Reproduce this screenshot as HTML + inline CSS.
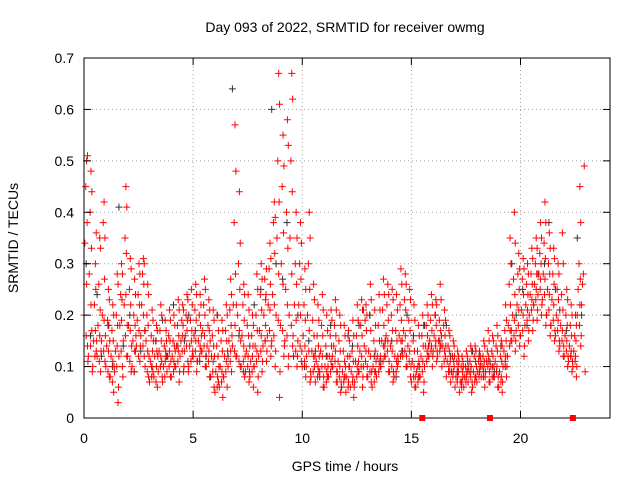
<!DOCTYPE html>
<html><head><meta charset="utf-8"><style>
body{margin:0;background:#fff}
svg text{font-family:"Liberation Sans",sans-serif;font-size:14px;fill:#000}
</style></head><body>
<svg width="640" height="480" id="c">
<text x="345" y="32" text-anchor="middle">Day 093 of 2022, SRMTID for receiver owmg</text>
<text x="345" y="471" text-anchor="middle">GPS time / hours</text>
<text transform="translate(18,238) rotate(-90)" text-anchor="middle">SRMTID / TECUs</text>
<g id="grid"></g>
<g id="marks"></g>
<rect x="84" y="58" width="526" height="360" fill="none" stroke="#000"/>
<g id="axes"></g>
</svg>
<script>
const xTicks=[0,5,10,15,20];
const yTicks=[0,0.1,0.2,0.3,0.4,0.5,0.6,0.7];
const yTickLabels=["0","0.1","0.2","0.3","0.4","0.5","0.6","0.7"];
const redStartHour=0, redStep=0.2;
const redBands=[
[.20,.34,.45,.50,.14],[.12,.28,.40,.48,.17],[.10,.15,.22,.30,.13],[.12,.18,.26,.35,.09],[.15,.20,.38,.42,.11],
[.10,.14,.19,.25,.08],[.08,.12,.17,.22,.05],[.09,.13,.20,.28,.03],[.12,.18,.24,.30,.10],[.15,.22,.35,.45,.12],
[.12,.18,.25,.31,.09],[.10,.15,.20,.27,.13],[.14,.19,.24,.30,.11],[.16,.22,.28,.31,.12],[.10,.15,.20,.26,.08],
[.07,.11,.16,.21,.09],[.08,.12,.15,.18,.06],[.09,.13,.17,.22,.11],[.07,.10,.14,.19,.12],[.09,.12,.16,.21,.08],
[.08,.12,.15,.20,.10],[.10,.14,.18,.23,.07],[.12,.15,.19,.22,.09],[.13,.16,.20,.24,.11],[.10,.14,.19,.25,.12],
[.12,.16,.21,.26,.09],[.11,.15,.20,.24,.13],[.13,.17,.22,.27,.10],[.10,.14,.18,.23,.08],[.08,.12,.16,.21,.06],
[.05,.09,.14,.20,.07],[.06,.10,.15,.19,.04],[.08,.12,.17,.22,.06],[.10,.15,.21,.27,.09],[.14,.22,.38,.57,.12],
[.12,.20,.30,.44,.10],[.10,.16,.22,.26,.08],[.09,.13,.18,.24,.07],[.08,.11,.16,.20,.06],[.10,.14,.20,.28,.05],
[.12,.17,.24,.30,.09],[.14,.20,.27,.23,.11],[.16,.22,.29,.34,.12],[.15,.24,.38,.42,.10],[.20,.35,.50,.67,.04],
[.18,.30,.45,.55,.12],[.15,.25,.40,.58,.10],[.20,.35,.50,.67,.14],[.12,.22,.30,.40,.10],[.15,.22,.30,.38,.11],
[.10,.16,.22,.29,.08],[.12,.20,.30,.40,.07],[.08,.13,.19,.26,.10],[.07,.11,.16,.22,.09],[.09,.13,.18,.24,.06],
[.06,.10,.14,.20,.08],[.08,.12,.16,.21,.10],[.10,.14,.18,.23,.07],[.07,.11,.15,.20,.05],[.06,.09,.13,.18,.08],
[.05,.08,.12,.17,.10],[.06,.09,.13,.19,.04],[.07,.11,.16,.22,.09],[.09,.13,.18,.23,.06],[.10,.14,.19,.22,.08],
[.08,.13,.20,.26,.07],[.06,.10,.15,.21,.09],[.08,.12,.18,.24,.10],[.10,.15,.21,.27,.12],[.12,.16,.22,.26,.09],
[.09,.14,.20,.25,.07],[.08,.12,.17,.24,.10],[.11,.16,.22,.29,.13],[.12,.17,.23,.28,.10],[.10,.14,.19,.25,.08],
[.07,.11,.15,.22,.06],[.06,.09,.13,.18,.08],[.08,.12,.16,.20,.05],[.10,.14,.18,.22,.12],[.12,.15,.19,.24,.10],
[.13,.16,.20,.23,.11],[.12,.15,.19,.26,.14],[.10,.14,.18,.21,.12],[.08,.11,.14,.17,.09],[.07,.09,.12,.15,.10],
[.06,.08,.11,.13,.09],[.05,.07,.10,.12,.08],[.06,.08,.10,.13,.09],[.07,.09,.11,.14,.05],[.06,.09,.12,.14,.08],
[.07,.09,.11,.13,.10],[.08,.10,.12,.15,.06],[.09,.11,.13,.17,.07],[.07,.10,.13,.16,.08],[.08,.11,.14,.18,.06],
[.06,.09,.12,.15,.05],[.10,.13,.17,.22,.08],[.12,.18,.26,.35,.15],[.15,.20,.27,.40,.13],[.17,.22,.28,.32,.14],
[.16,.21,.27,.31,.12],[.18,.22,.26,.30,.15],[.20,.24,.28,.33,.17],[.22,.26,.30,.35,.19],[.24,.28,.32,.38,.20],
[.23,.28,.34,.42,.18],[.20,.25,.30,.36,.16],[.18,.23,.28,.33,.15],[.16,.20,.25,.30,.13],[.14,.18,.24,.36,.12],
[.12,.16,.20,.25,.10],[.11,.14,.18,.22,.09],[.10,.13,.16,.20,.08],[.20,.25,.30,.45,.14],[.22,.26,.28,.49,.09]
];
const redStartHour2=0.1;
const redBands2=[
[.16,.26,.38,.51,.11],[.14,.22,.33,.44,.09],[.12,.17,.25,.36,.15],[.11,.16,.21,.33,.13],[.13,.19,.27,.35,.16],
[.09,.13,.18,.23,.15],[.07,.11,.15,.20,.10],[.10,.14,.18,.26,.06],[.13,.19,.23,.28,.08],[.16,.24,.32,.41,.18],
[.11,.17,.22,.29,.14],[.09,.13,.18,.24,.16],[.12,.17,.22,.28,.14],[.14,.20,.26,.30,.17],[.09,.13,.18,.24,.12],
[.08,.10,.13,.19,.15],[.07,.10,.13,.17,.12],[.10,.12,.15,.20,.08],[.08,.11,.13,.17,.15],[.10,.13,.15,.19,.11],
[.09,.11,.14,.18,.13],[.11,.13,.16,.21,.09],[.13,.16,.18,.21,.10],[.14,.17,.19,.23,.09],[.11,.15,.17,.22,.13],
[.13,.15,.19,.24,.11],[.12,.14,.18,.22,.16],[.14,.16,.20,.25,.12],[.11,.13,.17,.21,.15],[.09,.11,.14,.19,.12],
[.06,.08,.12,.17,.10],[.07,.09,.13,.17,.08],[.09,.11,.15,.20,.13],[.11,.13,.18,.24,.16],[.13,.18,.28,.48,.22],
[.11,.17,.25,.34,.15],[.11,.14,.19,.24,.12],[.10,.12,.16,.21,.09],[.09,.12,.14,.18,.10],[.11,.13,.17,.25,.08],
[.13,.16,.21,.27,.11],[.15,.18,.24,.29,.13],[.17,.21,.26,.31,.14],[.16,.22,.32,.39,.13],[.19,.28,.42,.61,.09],
[.17,.26,.36,.49,.14],[.16,.22,.33,.53,.12],[.18,.28,.44,.62,.16],[.13,.19,.26,.35,.12],[.14,.20,.27,.34,.13],
[.11,.14,.19,.25,.10],[.13,.17,.25,.35,.09],[.09,.12,.16,.23,.12],[.08,.10,.14,.19,.12],[.10,.12,.16,.21,.08],
[.07,.09,.12,.17,.10],[.09,.11,.14,.19,.12],[.11,.13,.16,.21,.09],[.08,.10,.13,.18,.07],[.07,.08,.11,.16,.10],
[.06,.07,.10,.15,.12],[.07,.08,.11,.16,.06],[.08,.10,.14,.19,.11],[.10,.12,.16,.21,.08],[.11,.13,.17,.20,.10],
[.09,.12,.17,.23,.09],[.07,.09,.13,.18,.11],[.09,.11,.15,.21,.12],[.11,.14,.18,.24,.14],[.13,.15,.19,.24,.11],
[.10,.13,.17,.23,.09],[.09,.11,.15,.21,.12],[.12,.15,.19,.26,.15],[.13,.16,.21,.26,.12],[.11,.13,.17,.23,.10],
[.08,.10,.13,.19,.08],[.07,.08,.11,.16,.10],[.09,.11,.14,.18,.07],[.11,.13,.16,.20,.14],[.13,.14,.17,.22,.12],
[.14,.15,.18,.22,.13],[.13,.14,.17,.23,.16],[.11,.13,.16,.19,.14],[.09,.10,.13,.16,.11],[.08,.09,.11,.14,.12],
[.07,.08,.10,.12,.11],[.06,.07,.09,.11,.10],[.07,.08,.09,.12,.11],[.08,.09,.10,.13,.07],[.07,.08,.11,.13,.10],
[.08,.09,.10,.12,.11],[.09,.10,.11,.14,.08],[.10,.11,.12,.15,.09],[.08,.10,.12,.15,.10],[.09,.10,.13,.16,.08],
[.07,.08,.11,.14,.07],[.11,.12,.15,.19,.10],[.14,.17,.22,.30,.17],[.16,.19,.24,.34,.15],[.18,.21,.25,.29,.16],
[.17,.20,.24,.29,.14],[.19,.21,.24,.28,.17],[.21,.23,.26,.31,.19],[.23,.25,.28,.33,.21],[.25,.27,.30,.35,.22],
[.24,.27,.31,.38,.20],[.21,.24,.28,.33,.18],[.19,.22,.26,.31,.17],[.17,.19,.23,.28,.15],[.15,.17,.21,.30,.14],
[.13,.15,.18,.23,.12],[.12,.13,.16,.20,.11],[.11,.12,.15,.18,.10],[.18,.22,.27,.38,.16]
];
const blackStartHour=0.1, blackStep=0.5;
const blackBands=[
[.30,.16],[.24,.12],[.18,.10],[.41,.14],[.20,.09],[.13,.17],[.10,.15],[.19,.12],[.22,.14],[.15,.20],
[.17,.11],[.12,.08],[.20,.07],[.12,.64],[.16,.09],[.14,.22],[.25,.15],[.60,.30],[.27,.38],[.12,.20],
[.10,.15],[.13,.08],[.12,.18],[.09,.06],[.16,.14],[.18,.21],[.20,.12],[.11,.15],[.15,.08],[.13,.20],
[.16,.10],[.18,.14],[.20,.15],[.18,.12],[.09,.07],[.10,.13],[.12,.08],[.11,.09],[.14,.10],[.30,.20],
[.25,.18],[.22,.28],[.30,.38],[.25,.21],[.17,.12],[.35,.20]
];
const flagHours=[15.5,18.6,22.4];
const NS="http://www.w3.org/2000/svg";
const X=h=>84+h*(526/24.1), Y=v=>418-v*(360/0.7);
const grid=document.getElementById('grid'),axes=document.getElementById('axes'),marks=document.getElementById('marks');
function mk(tag,a,p){const e=document.createElementNS(NS,tag);for(const k in a)e.setAttribute(k,a[k]);p.appendChild(e);return e;}
xTicks.forEach(t=>{const x=X(t);
 if(t>0){const g=mk('line',{x1:x,x2:x,y1:58,y2:418,stroke:'#a0a0a0','stroke-dasharray':'1,3'},grid);
 
 }
 mk('line',{x1:x,x2:x,y1:418,y2:411,stroke:'#000'},axes);mk('line',{x1:x,x2:x,y1:58,y2:65,stroke:'#000'},axes);
 const tx=mk('text',{x:x,y:443,'text-anchor':'middle'},axes);tx.textContent=t;
 
 });
yTicks.forEach((v,i)=>{const y=Y(v);
 if(i>0&&i<yTicks.length-1){const g=mk('line',{x1:84,x2:610,y1:y,y2:y,stroke:'#a0a0a0','stroke-dasharray':'1,3'},grid);
 
 }
 mk('line',{x1:84,x2:91,y1:y,y2:y,stroke:'#000'},axes);mk('line',{x1:610,x2:603,y1:y,y2:y,stroke:'#000'},axes);
 const tx=mk('text',{x:74,y:y+5,'text-anchor':'end'},axes);tx.textContent=yTickLabels[i];
 
 });
function plus(h,v,col){const x=X(h),y=Y(v);
 const p=mk('path',{d:`M${x-3.5},${y}H${x+3.5}M${x},${y-3.5}V${y+3.5}`,stroke:col,'stroke-width':1,fill:'none'},marks);
 
 }
blackBands.forEach((b,i)=>b.forEach((v,j)=>plus(blackStartHour+i*blackStep+j*0.2,v,'#303030')));
redBands.forEach((b,i)=>b.forEach((v,j)=>plus(redStartHour+i*redStep+j*0.04,v,'#ff0000')));
redBands2.forEach((b,i)=>b.forEach((v,j)=>plus(redStartHour2+i*redStep+j*0.02,v,'#ff0000')));
flagHours.forEach(h=>{const r=mk('rect',{x:X(h)-3,y:415,width:6,height:6,fill:'#ff0000'},axes);
 
 });
</script>
</body></html>
